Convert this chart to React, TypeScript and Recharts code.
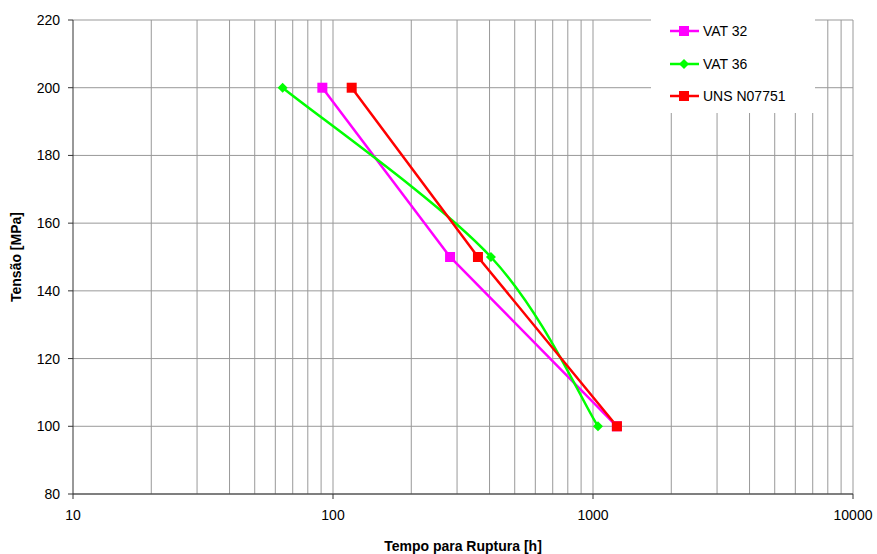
import React from 'react';
import {
  LineChart,
  Line,
  XAxis,
  YAxis,
  CartesianGrid,
  ReferenceLine,
} from 'recharts';

// tempo para ruptura [h] x tensão [MPa]
const vat32 = [
  { t: 91, s: 200 },
  { t: 282, s: 150 },
  { t: 1235, s: 100 },
];
const vat36 = [
  { t: 64, s: 200 },
  { t: 405, s: 150 },
  { t: 1045, s: 100 },
];
const uns = [
  { t: 118, s: 200 },
  { t: 361, s: 150 },
  { t: 1236, s: 100 },
];

const xTicks = [10, 100, 1000, 10000];
const yTicks = [80, 100, 120, 140, 160, 180, 200, 220];
const minorX = [20, 30, 40, 50, 60, 70, 80, 90, 200, 300, 400, 500, 600, 700, 800, 900, 2000, 3000, 4000, 5000, 6000, 7000, 8000, 9000];

// Excel style smoothed line (catmull-rom like bezier)
const smoothCurve = (context: any) => {
  let pts: number[][] = [];
  return {
    areaStart() {},
    areaEnd() {},
    lineStart() {
      pts = [];
    },
    point(x: number, y: number) {
      pts.push([+x, +y]);
    },
    lineEnd() {
      if (!pts.length) return;
      context.moveTo(pts[0][0], pts[0][1]);
      for (let i = 0; i < pts.length - 1; i++) {
        const p0 = pts[i - 1] || pts[i];
        const p1 = pts[i];
        const p2 = pts[i + 1];
        const p3 = pts[i + 2] || pts[i + 1];
        context.bezierCurveTo(
          p1[0] + (p2[0] - p0[0]) / 6,
          p1[1] + (p2[1] - p0[1]) / 6,
          p2[0] - (p3[0] - p1[0]) / 6,
          p2[1] - (p3[1] - p1[1]) / 6,
          p2[0],
          p2[1]
        );
      }
    },
  };
};

const series = [
  { name: 'VAT 32', color: '#FF00FF', shape: 'square', data: vat32, type: 'linear' as any },
  { name: 'VAT 36', color: '#00FF00', shape: 'diamond', data: vat36, type: smoothCurve as any },
  { name: 'UNS N07751', color: '#FF0000', shape: 'square', data: uns, type: 'linear' as any },
];

const font = 'Arial, "Liberation Sans", sans-serif';

const Marker = ({ cx, cy, color, shape }: any) => {
  if (cx == null || cy == null) return null;
  if (shape === 'diamond') {
    return <path d={`M${cx},${cy - 5}L${cx + 5},${cy}L${cx},${cy + 5}L${cx - 5},${cy}Z`} fill={color} />;
  }
  return <rect x={cx - 5} y={cy - 5} width={10} height={10} fill={color} />;
};

const LegendBox = () => (
  <div style={{ position: 'absolute', left: 651, top: 15, width: 164, height: 98, background: '#fff' }}>
    {series.map((s) => (
      <div key={s.name} style={{ display: 'flex', alignItems: 'center', height: 32.5, fontFamily: font, fontSize: 14, color: '#000' }}>
        <svg width={32} height={12} style={{ marginLeft: 18 }}>
          <line x1={1} y1={6} x2={30} y2={6} stroke={s.color} strokeWidth={2.5} />
          <Marker cx={15} cy={6} color={s.color} shape={s.shape} />
        </svg>
        <span style={{ marginLeft: 2 }}>{s.name}</span>
      </div>
    ))}
  </div>
);

const App = () => {
  return (
    <div style={{ position: 'absolute', left: 0, top: 0, width: 877, height: 554, background: '#fff' }}>
      <LineChart width={877} height={554} margin={{ top: 20, right: 24, left: 0, bottom: 0 }}>
        <CartesianGrid stroke="#999" vertical={false} horizontalValues={yTicks} />
        {minorX.concat([100, 1000, 10000]).map((v) => (
          <ReferenceLine key={v} x={v} stroke="#999" strokeWidth={1} />
        ))}
        <XAxis
          type="number"
          dataKey="t"
          scale="log"
          domain={[10, 10000]}
          ticks={xTicks}
          allowDataOverflow
          height={60}
          stroke="#333"
          tickSize={5}
          tickMargin={11}
          tick={{ fontSize: 14, fill: '#000', fontFamily: font }}
          label={{ value: 'Tempo para Ruptura [h]', position: 'insideBottom', offset: 3, fontSize: 14, fontWeight: 'bold', fill: '#000', fontFamily: font }}
        />
        <YAxis
          type="number"
          dataKey="s"
          domain={[80, 220]}
          ticks={yTicks}
          width={73}
          stroke="#333"
          tickSize={5}
          tickMargin={8}
          tick={{ fontSize: 14, fill: '#000', fontFamily: font }}
          label={{ value: 'Tensão [MPa]', angle: -90, position: 'insideLeft', offset: 16, dy: 45, fontSize: 14, fontWeight: 'bold', fill: '#000', fontFamily: font }}
        />
        {series.map((s) => (
          <Line
            key={s.name}
            data={s.data}
            dataKey="s"
            name={s.name}
            type={s.type}
            stroke={s.color}
            strokeWidth={2.5}
            dot={(p: any) => <Marker key={p.index} cx={p.cx} cy={p.cy} color={s.color} shape={s.shape} />}
            activeDot={false}
            isAnimationActive={false}
          />
        ))}
      </LineChart>
      <LegendBox />
    </div>
  );
};

export default App;
